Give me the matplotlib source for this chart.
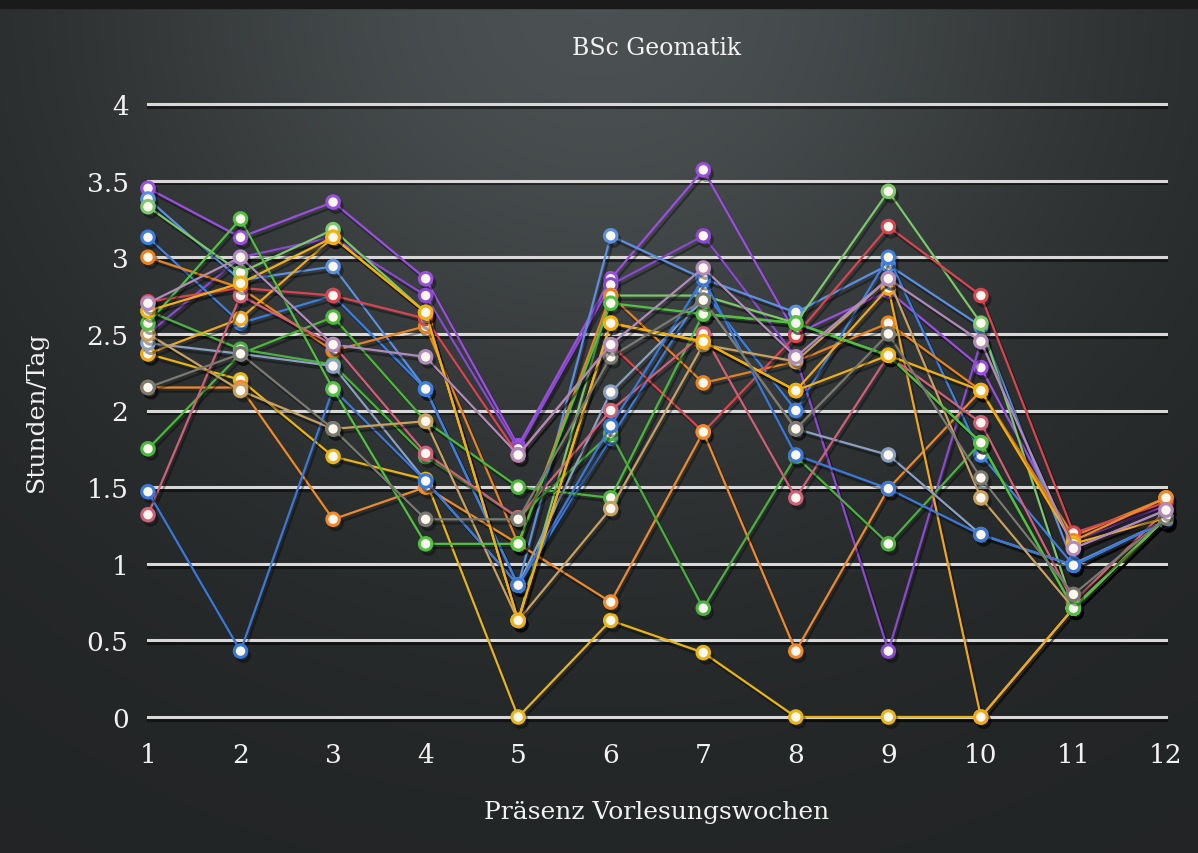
import numpy as np
import matplotlib.pyplot as plt
import matplotlib.patheffects as pe

# weeks and hours per day, one list per student
weeks = list(range(1, 13))
s01 = [3.45, 3.13, 3.36, 2.86, 1.77, 2.86, 3.57, 2.50, 2.78, 2.28, 1.15, 1.38]
s02 = [2.50, 3.00, 3.13, 2.75, 1.75, 2.82, 3.14, 2.35, 0.43, 2.45, 1.10, 1.35]
s03 = [3.38, 2.85, 2.94, 2.14, 0.86, 3.14, 2.86, 2.64, 2.95, 2.55, 1.00, 1.28]
s04 = [3.33, 2.90, 3.18, 2.64, 0.63, 2.75, 2.75, 2.57, 3.43, 2.57, 0.71, 1.30]
s05 = [3.13, 2.57, 2.75, 2.14, 0.86, 1.82, 2.78, 2.00, 3.00, 1.71, 0.99, 1.28]
s06 = [3.00, 2.80, 2.39, 2.55, 1.13, 2.75, 2.18, 2.32, 2.57, 2.13, 1.18, 1.43]
s07 = [2.71, 2.80, 2.75, 2.60, 1.71, 2.43, 1.86, 2.49, 3.20, 2.75, 1.20, 1.40]
s08 = [2.37, 2.20, 1.70, 1.55, 0.00, 0.63, 0.42, 0.00, 0.00, 0.00, 0.71, 1.30]
s09 = [2.15, 2.15, 1.29, 1.50, 1.13, 0.75, 1.86, 0.43, 1.49, 2.13, 1.15, 1.43]
s10 = [1.75, 2.37, 2.61, 1.93, 1.50, 1.43, 2.63, 2.57, 2.36, 1.79, 0.71, 1.30]
s11 = [2.65, 2.40, 2.30, 1.70, 1.30, 1.85, 0.71, 1.70, 1.13, 1.79, 0.71, 1.30]
s12 = [2.37, 2.60, 3.13, 2.64, 0.63, 2.57, 2.45, 2.13, 2.80, 0.00, 0.71, 1.30]
s13 = [2.44, 2.37, 2.29, 1.54, 0.86, 2.12, 2.72, 1.88, 1.71, 1.19, 0.99, 1.28]
s14 = [1.32, 2.75, 2.43, 1.72, 1.30, 2.00, 2.50, 1.43, 2.36, 1.92, 0.75, 1.35]
s15 = [1.47, 0.43, 2.14, 1.54, 0.86, 1.90, 2.86, 1.71, 1.49, 1.19, 0.99, 1.28]
s16 = [2.50, 2.13, 1.88, 1.93, 0.63, 1.36, 2.43, 2.32, 2.86, 1.43, 0.71, 1.30]
s17 = [2.57, 3.25, 2.14, 1.13, 1.13, 2.70, 2.63, 2.57, 2.36, 1.79, 0.71, 1.30]
s18 = [2.65, 2.83, 3.13, 2.64, 0.63, 2.57, 2.45, 2.13, 2.36, 2.13, 1.13, 1.30]
s19 = [2.15, 2.37, 1.88, 1.29, 1.29, 2.35, 2.72, 1.88, 2.50, 1.56, 0.80, 1.30]
s20 = [2.70, 3.00, 2.43, 2.35, 1.71, 2.43, 2.93, 2.35, 2.86, 2.45, 1.10, 1.35]

series = [s01, s02, s03, s04, s05, s06, s07, s08, s09, s10,
          s11, s12, s13, s14, s15, s16, s17, s18, s19, s20]
colors = ['#9b4fe0', '#8a4ad0', '#5b8fe0', '#7cc86a', '#3d7fe0', '#e8821e',
          '#d8454f', '#e8b416', '#ef8a2a', '#4cb83a', '#4cb040', '#f0a818',
          '#8aa0c0', '#d06078', '#3b78d8', '#c8a060', '#52c040', '#f2b010',
          '#7a7a70', '#b08ab8']

fig = plt.figure(figsize=(11.98, 8.54), dpi=100)

# dark chalkboard-like background with a lighter top
bg = fig.add_axes([0, 0, 1, 1], zorder=0)
yy, xx = np.mgrid[0:1:300j, 0:1:300j]
glow = np.exp(-((xx - 0.5) ** 2) / 0.18 - (yy ** 2) / 0.3)
img = 0.14 + 0.17 * glow
bg.imshow(np.dstack([img * 0.95, img * 1.02, img * 1.04]).clip(0, 1),
          extent=[0, 1, 0, 1], aspect='auto', origin='upper')
bg.axhspan(0.99, 1.0, color='#1a1a1a')
bg.axis('off')

W, H = 1198, 854
ax = fig.add_axes([148 / W, (H - 718) / H, (1166 - 148) / W, (718 - 105) / H], zorder=1)
ax.set_facecolor('none')
ax.set_xlim(1, 12)
ax.set_ylim(0, 4)

for v in np.arange(0, 4.01, 0.5):
    ax.axhline(v, color='#d8d8d8', lw=2.2, zorder=1, clip_on=False,
               path_effects=[pe.SimpleLineShadow(offset=(0, -2), alpha=0.5), pe.Normal()])

shadow = [pe.SimpleLineShadow(offset=(2, -3), alpha=0.35, shadow_color='black'), pe.Normal()]
for vals, c in zip(series, colors):
    ax.plot(weeks, vals, color=c, lw=1.6, marker='o', markersize=9,
            markerfacecolor='#fbf6ee', markeredgecolor=c, markeredgewidth=2.2,
            clip_on=False, zorder=3, path_effects=shadow)

for s in ax.spines.values():
    s.set_visible(False)

txt = '#f2f2f2'
font = 'DejaVu Serif'
ax.set_xticks(weeks)
ax.set_yticks(np.arange(0, 4.01, 0.5))
ax.set_yticklabels(['0', '0.5', '1', '1.5', '2', '2.5', '3', '3.5', '4'])
ax.tick_params(length=0, colors=txt, labelsize=19, pad=14)
ax.tick_params(axis='x', pad=18)
for lab in ax.get_xticklabels() + ax.get_yticklabels():
    lab.set_fontfamily(font)

ax.set_title('BSc Geomatik', color=txt, fontsize=17, family=font, pad=36)
ax.set_xlabel('Präsenz Vorlesungswochen', color=txt, fontsize=18, family=font, labelpad=24)
ax.set_ylabel('Stunden/Tag', color=txt, fontsize=18, family=font, labelpad=28)

fig.savefig('out.png', dpi=100)
